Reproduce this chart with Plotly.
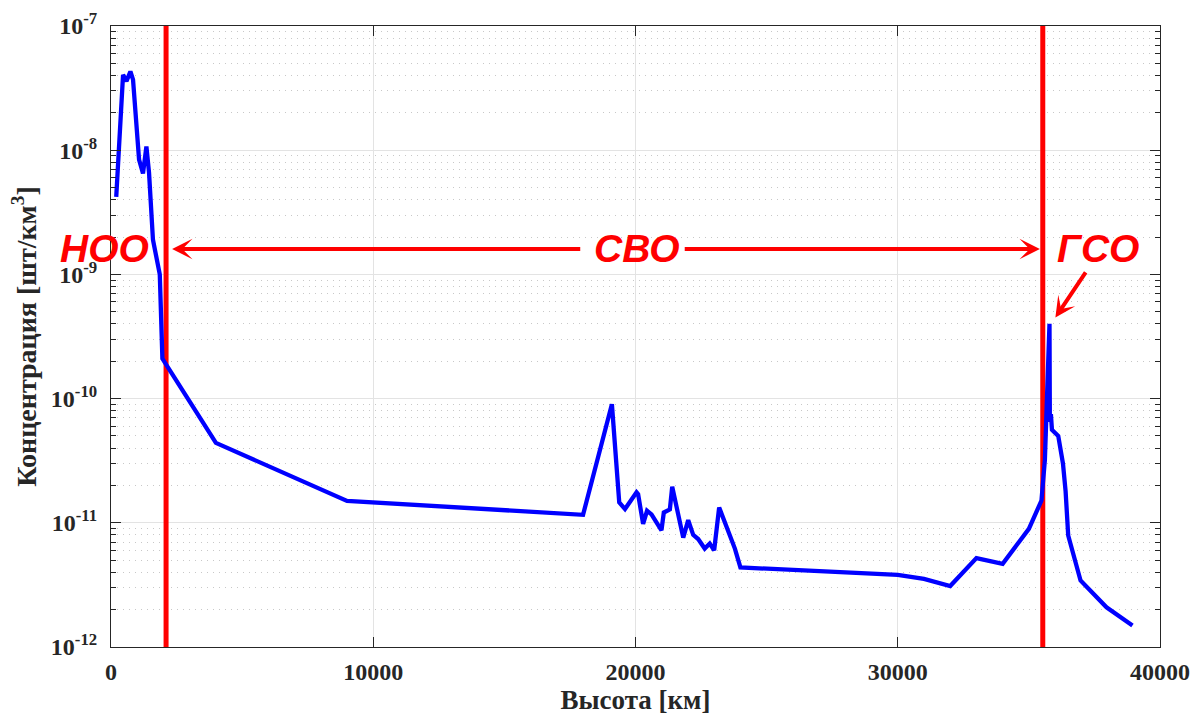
import plotly.graph_objects as go

# ---------------- data ----------------
altitude_km = [200, 460, 590, 740, 840, 1070, 1220, 1350, 1450, 1600, 1860, 1960,
               4000, 9000, 18000, 19100, 19380, 19600, 20040, 20100, 20290, 20440,
               20610, 20990, 21080, 21220, 21310, 21400, 21630, 21820, 22010, 22200,
               22390, 22640, 22830, 23000, 23190, 23410, 23600, 23790, 24000, 30000,
               31000, 32000, 33000, 34000, 35000, 35480, 35610, 35786, 35800, 35840,
               35880, 36120, 36300, 36400, 36500, 36970, 37960, 38950]
concentration = [4.2e-9, 4.05e-8, 3.6e-8, 4.3e-8, 3.7e-8, 8.4e-9, 6.5e-9, 1.07e-8, 6.6e-9,
                 1.9e-9, 1.0e-9, 2.1e-10, 4.4e-11, 1.5e-11, 1.16e-11, 9.0e-11, 1.46e-11,
                 1.29e-11, 1.76e-11, 1.70e-11, 9.8e-12, 1.25e-11, 1.17e-11, 8.7e-12,
                 1.21e-11, 1.24e-11, 1.28e-11, 1.95e-11, 1.1e-11, 7.6e-12, 1.05e-11,
                 8.0e-12, 7.4e-12, 6.2e-12, 6.8e-12, 6.0e-12, 1.33e-11, 1.0e-11, 8.1e-12,
                 6.2e-12, 4.37e-12, 3.81e-12, 3.53e-12, 3.1e-12, 5.2e-12, 4.67e-12,
                 8.95e-12, 1.51e-11, 3.2e-11, 4.0e-10, 6.5e-11, 7.5e-11, 5.6e-11, 5.0e-11,
                 3.0e-11, 1.8e-11, 7.9e-12, 3.43e-12, 2.09e-12, 1.49e-12]

boundary_leo_km = 2100
boundary_geo_km = 35530
y_limits = [1e-12, 1e-7]

x_tick_vals = [0, 10000, 20000, 30000, 40000]
x_tick_text = ["0", "10000", "20000", "30000", "40000"]
y_tick_vals = [1e-12, 1e-11, 1e-10, 1e-9, 1e-8, 1e-7]
y_tick_text = ["10<sup>-12</sup>", "10<sup>-11</sup>", "10<sup>-10</sup>",
               "10<sup>-9</sup>", "10<sup>-8</sup>", "10<sup>-7</sup>"]
y_minor_vals = [m * 10.0 ** e for e in range(-12, -7) for m in range(2, 10)]

region_labels = ["НОО", "СВО", "ГСО"]
region_label_x = [-0.0065, 0.5013, 0.9406]   # fraction of plot width
region_label_logy = [-8.79, -8.79, -8.79]

x_title = "Высота [км]"
y_title = "Концентрация [шт/км<sup>3</sup>]"

# ---------------- figure ----------------
AX = "#262626"
SERIF = "Liberation Serif"
SANS = "Liberation Sans"

fig = go.Figure()

fig.add_trace(go.Scatter(x=[boundary_leo_km, boundary_leo_km], y=y_limits, mode="lines",
                         line=dict(color="#ff0000", width=5), showlegend=False, hoverinfo="skip"))
fig.add_trace(go.Scatter(x=[boundary_geo_km, boundary_geo_km], y=y_limits, mode="lines",
                         line=dict(color="#ff0000", width=5), showlegend=False, hoverinfo="skip"))
fig.add_trace(go.Scatter(x=altitude_km, y=concentration, mode="lines",
                         line=dict(color="#0000ff", width=4.3), showlegend=False))

annotations = []
for txt, xv, yv in zip(region_labels, region_label_x, region_label_logy):
    annotations.append(dict(x=xv, y=yv, xref="paper", yref="y", text="<b><i>" + txt + "</i></b>",
                            showarrow=False, font=dict(family=SANS, size=39, color="#ff0000"),
                            xanchor="center", yanchor="middle"))

arrow_y = -8.796
arrow_style = dict(xref="x", yref="y", axref="x", ayref="y", text="", showarrow=True,
                   arrowhead=3, arrowsize=0.85, arrowwidth=4, arrowcolor="#ff0000",
                   standoff=0, startstandoff=0)
# left arrow (towards LEO boundary)
annotations.append(dict(x=2330, y=arrow_y, ax=17950, ay=arrow_y, **arrow_style))
# right arrow (towards GEO boundary)
annotations.append(dict(x=35420, y=arrow_y, ax=21820, ay=arrow_y, **arrow_style))
# GSO pointer
annotations.append(dict(x=36011, y=-9.347, ax=37204, ay=-8.971, **arrow_style))

fig.update_layout(
    width=1194, height=717,
    margin=dict(l=111, r=34, t=26, b=70),
    paper_bgcolor="white", plot_bgcolor="white",
    annotations=annotations,
    showlegend=False,
)

fig.update_xaxes(
    range=[0, 40000], tickmode="array", tickvals=x_tick_vals,
    ticktext=["<b>" + t + "</b>" for t in x_tick_text],
    ticks="inside", ticklen=10, tickwidth=1, tickcolor=AX,
    showline=True, linecolor=AX, linewidth=1, mirror="allticks",
    showgrid=True, gridcolor="#e3e3e3", gridwidth=1, zeroline=False,
    tickfont=dict(family=SERIF, size=24, color=AX), ticklabelstandoff=3,
    automargin=False,
    title=dict(text="<b>" + x_title + "</b>", font=dict(family=SERIF, size=27, color=AX),
               standoff=4),
)

fig.update_yaxes(
    type="log", range=[-12, -7], tickmode="array", tickvals=y_tick_vals,
    ticktext=["<b>" + t + "</b>" for t in y_tick_text],
    ticks="inside", ticklen=10, tickwidth=1, tickcolor=AX,
    showline=True, linecolor=AX, linewidth=1, mirror="allticks",
    showgrid=True, gridcolor="#e3e3e3", gridwidth=1, zeroline=False,
    tickfont=dict(family=SERIF, size=24, color=AX), ticklabelstandoff=8,
    automargin=False,
    minor=dict(tickmode="array", tickvals=y_minor_vals, ticks="inside", ticklen=5,
               tickcolor=AX, showgrid=True, gridcolor="#c8c8c8", griddash="1px,5px",
               gridwidth=1),
    title=dict(text="<b>" + y_title + "</b>", font=dict(family=SERIF, size=28, color=AX),
               standoff=6),
)

fig.write_html("out.html")
